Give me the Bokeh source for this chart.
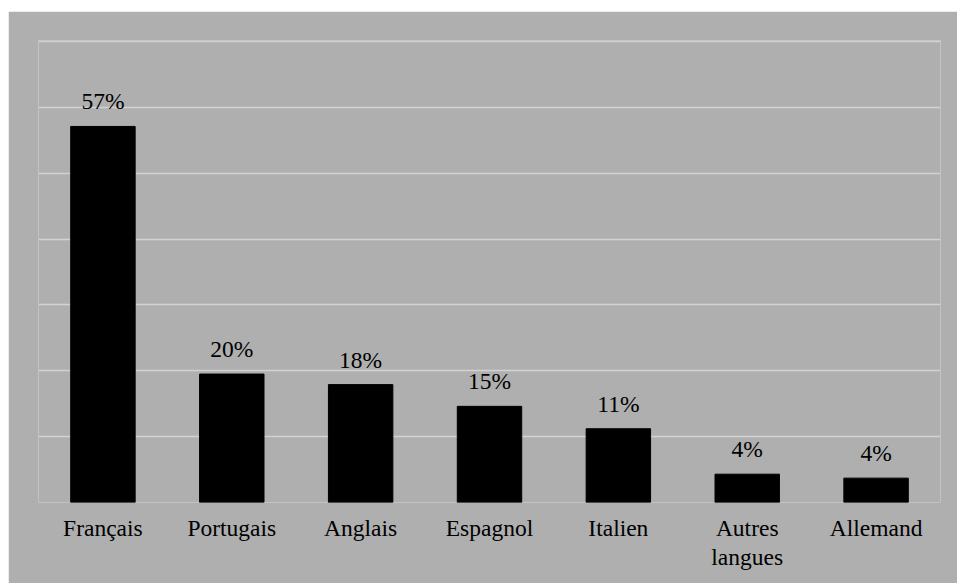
from bokeh.plotting import figure
from bokeh.models import ColumnDataSource, Range1d, Spacer, FixedTicker, LabelSet, LinearAxis
from bokeh.layouts import column, row
from bokeh.core.properties import value
from bokeh.embed import file_html
from bokeh.resources import INLINE

categories = ["Français", "Portugais", "Anglais", "Espagnol", "Italien", "Autres langues", "Allemand"]
values = [57.1, 19.5, 17.9, 14.6, 11.2, 4.3, 3.7]
labels = ["57%", "20%", "18%", "15%", "11%", "4%", "4%"]
tick_line1 = ["Français", "Portugais", "Anglais", "Espagnol", "Italien", "Autres", "Allemand"]
tick_line2 = [" ", " ", " ", " ", " ", "langues", " "]
y_ticks = [0, 10, 20, 30, 40, 50, 60, 70]

BG = "#afafaf"
FONT = "Liberation Serif"
FSIZE = "23.5px"

# category slots on a numeric scale: slot i is centred at i + 0.5
xpos = [i + 0.5 for i in range(len(categories))]
src = ColumnDataSource(dict(x=xpos, cat=categories, val=values, lab=labels))

p = figure(x_range=Range1d(0, len(categories)), y_range=Range1d(0, 70.15), width=949, height=572,
           output_backend="svg", toolbar_location=None,
           min_border_left=30, min_border_right=17, min_border_top=29, min_border_bottom=81)
p.background_fill_color = BG
p.border_fill_color = BG
p.outline_line_color = None

p.vbar(x="x", top="val", width=0.5, source=src, fill_color="black", line_color="black")

vals = LabelSet(x="x", y="val", text="lab", source=src, text_align="center",
                text_baseline="alphabetic", y_offset=17, text_font=value(FONT),
                text_font_size=value(FSIZE), text_color="#000000")
p.add_layout(vals)

p.yaxis.visible = False
p.yaxis.ticker = FixedTicker(ticks=y_ticks)
p.ygrid.ticker = FixedTicker(ticks=y_ticks)
p.ygrid.grid_line_color = "#d2d2d2"
p.ygrid.grid_line_width = 1.5
p.xgrid.grid_line_color = None


def style_axis(ax, standoff, texts):
    ax.ticker = FixedTicker(ticks=xpos)
    ax.major_label_overrides = {x: t for x, t in zip(xpos, texts)}
    ax.axis_line_color = None
    ax.major_tick_line_color = None
    ax.minor_tick_line_color = None
    ax.major_tick_in = 0
    ax.major_tick_out = 0
    ax.major_label_text_font = FONT
    ax.major_label_text_font_size = FSIZE
    ax.major_label_text_color = "#000000"
    ax.major_label_standoff = standoff


style_axis(p.xaxis[0], 12, tick_line1)
ax2 = LinearAxis()
style_axis(ax2, 0, tick_line2)
p.add_layout(ax2, "below")

layout = column(Spacer(height=11, width=957),
                row(Spacer(width=8, height=572), p, spacing=0), spacing=0)

open("out.html", "w").write(file_html(layout, INLINE))
